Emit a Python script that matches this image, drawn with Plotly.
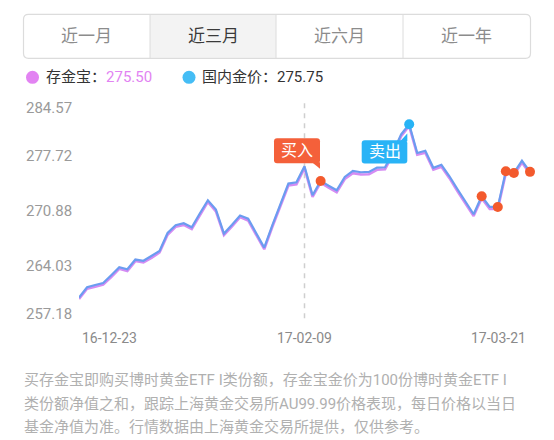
import plotly.graph_objects as go

# ---------------- data ----------------
dates = ["16-12-23", "16-12-26", "16-12-27", "16-12-28", "16-12-29", "16-12-30",
         "17-01-03", "17-01-04", "17-01-05", "17-01-06", "17-01-09", "17-01-10",
         "17-01-11", "17-01-12", "17-01-13", "17-01-16", "17-01-17", "17-01-18",
         "17-01-19", "17-01-20", "17-01-23", "17-01-24", "17-01-25", "17-01-26",
         "17-02-03", "17-02-06", "17-02-07", "17-02-08", "17-02-09", "17-02-10",
         "17-02-13", "17-02-14", "17-02-15", "17-02-16", "17-02-17", "17-02-20",
         "17-02-21", "17-02-22", "17-02-23", "17-02-24", "17-02-27", "17-02-28",
         "17-03-01", "17-03-02", "17-03-03", "17-03-06", "17-03-07", "17-03-08",
         "17-03-09", "17-03-10", "17-03-13", "17-03-14", "17-03-15", "17-03-16",
         "17-03-17", "17-03-20", "17-03-21"]

domestic_price = [260.10, 261.38, 261.66, 261.91, 262.87, 263.87, 263.62, 264.83, 264.68, 265.24,
                  265.90, 268.14, 269.10, 269.35, 268.85, 270.56, 272.21, 271.05, 268.07, 269.16,
                  270.31, 269.91, 268.10, 266.32, 269.10, 271.71, 274.29, 274.45, 276.45, 272.84,
                  274.62, 274.02, 273.46, 275.11, 275.86, 275.70, 275.74, 276.28, 276.32, 278.19,
                  280.43, 281.68, 278.10, 278.38, 276.26, 276.63, 275.20, 273.58, 272.03, 270.47,
                  272.71, 271.38, 271.38, 275.82, 275.61, 277.13, 275.75]

cunjinbao = [259.92, 261.20, 261.45, 261.72, 262.66, 263.68, 263.40, 264.64, 264.47, 265.03,
             265.71, 267.92, 268.90, 269.14, 268.64, 270.37, 272.01, 270.84, 267.88, 268.95,
             270.11, 269.70, 267.90, 266.12, 268.89, 271.50, 274.05, 274.19, 276.22, 272.63,
             274.40, 273.79, 273.20, 274.85, 275.58, 275.42, 275.45, 276.01, 276.08, 277.98,
             280.20, 281.45, 277.88, 278.13, 276.02, 276.37, 274.96, 273.34, 271.80, 270.25,
             272.47, 271.13, 271.12, 275.58, 275.36, 276.90, 275.50]

buy_points = ["17-02-13", "17-03-13", "17-03-15", "17-03-16", "17-03-17", "17-03-21"]
sell_points = ["17-02-28"]
buy_label_date = "17-02-09"
sell_label_date = "17-02-28"

y_ticks = [257.18, 264.03, 270.88, 277.72, 284.57]
x_tick_labels = ["16-12-23", "17-02-09", "17-03-21"]

periods = ["近一月", "近三月", "近六月", "近一年"]
selected_period = "近三月"

series_names = ["存金宝", "国内金价"]

footnote = [
    "买存金宝即购买博时黄金ETF I类份额，存金宝金价为100份博时黄金ETF I",
    "类份额净值之和，跟踪上海黄金交易所AU99.99价格表现，每日价格以当日",
    "基金净值为准。行情数据由上海黄金交易所提供，仅供参考。",
]

# ---------------- layout helpers ----------------
W, H = 554, 440
L, R, T, B = 79, 24, 100.7, 119.3
PW, PH = W - L - R, H - T - B

C_PURPLE = "#e283f2"
C_BLUE = "#45bdf5"
C_LINE_BLUE = "#6b9cf0"
C_LINE_PURPLE = "#d58cf3"
C_RED = "#f35a2d"
C_SELL = "#27b3f5"
FONT = "Roboto, 'Noto Sans CJK SC', sans-serif"


def px(X):
    return (X - L) / PW


def py(Y):
    return (H - B - Y) / PH


def to_paper(X, Y):
    return px(X), py(Y)


def to_pix(X, Y):
    return X, -Y


def rrect(x0, y0, x1, y1, r, f):
    pts = []

    def p(cmd, *xy):
        s = cmd
        for i in range(0, len(xy), 2):
            a, b = f(xy[i], xy[i + 1])
            s += f" {a:.5f},{b:.5f}"
        pts.append(s)
    p("M", x0 + r, y0)
    p("L", x1 - r, y0)
    p("Q", x1, y0, x1, y0 + r)
    p("L", x1, y1 - r)
    p("Q", x1, y1, x1 - r, y1)
    p("L", x0 + r, y1)
    p("Q", x0, y1, x0, y1 - r)
    p("L", x0, y0 + r)
    p("Q", x0, y0, x0 + r, y0)
    return " ".join(pts) + " Z"


def poly(points, f):
    s = []
    for i, (a, b) in enumerate(points):
        u, v = f(a, b)
        s.append(("M" if i == 0 else "L") + f" {u:.5f},{v:.5f}")
    return " ".join(s) + " Z"


fig = go.Figure()

fig.add_trace(go.Scatter(x=dates, y=cunjinbao, mode="lines", name=series_names[0],
                         line=dict(color=C_LINE_PURPLE, width=2.6), hoverinfo="skip"))
fig.add_trace(go.Scatter(x=dates, y=domestic_price, mode="lines", name=series_names[1],
                         line=dict(color=C_LINE_BLUE, width=2.2), hoverinfo="skip"))

idx = {d: i for i, d in enumerate(dates)}
fig.add_trace(go.Scatter(x=buy_points, y=[domestic_price[idx[d]] for d in buy_points],
                         mode="markers", marker=dict(color=C_RED, size=10),
                         cliponaxis=False, hoverinfo="skip"))
fig.add_trace(go.Scatter(x=sell_points, y=[domestic_price[idx[d]] for d in sell_points],
                         mode="markers", marker=dict(color=C_SELL, size=10),
                         cliponaxis=False, hoverinfo="skip"))

shapes = []
annotations = []

# segmented control
shapes.append(dict(type="path", xref="paper", yref="paper", layer="below",
                   path=rrect(150, 14.5, 276, 57.5, 0, to_paper),
                   fillcolor="#f3f3f3", line=dict(width=0)))
shapes.append(dict(type="path", xref="paper", yref="paper",
                   path=rrect(23.5, 14, 530.5, 58, 5, to_paper),
                   line=dict(color="#dcdcdc", width=1.2)))
for xd in (150, 276, 403):
    shapes.append(dict(type="line", xref="paper", yref="paper",
                       x0=px(xd), x1=px(xd), y0=py(14), y1=py(58),
                       line=dict(color="#dcdcdc", width=1)))
centers = [86.8, 213, 339.5, 466.7]
for name, cx in zip(periods, centers):
    annotations.append(dict(xref="paper", yref="paper", x=px(cx), y=py(36), text=name,
                            showarrow=False, xanchor="center", yanchor="middle",
                            font=dict(size=17, family=FONT,
                                      color="#3a3a3a" if name == selected_period else "#8c8c8c")))

# legend
for cx, col in ((32.5, C_PURPLE), (189, C_BLUE)):
    shapes.append(dict(type="circle", xref="paper", yref="paper",
                       x0=px(cx - 6.5), x1=px(cx + 6.5), y0=py(77 + 6.5), y1=py(77 - 6.5),
                       fillcolor=col, line=dict(width=0)))
annotations.append(dict(xref="paper", yref="paper", x=px(44), y=py(77), xanchor="left",
                        yanchor="middle", showarrow=False,
                        text=f"{series_names[0]}：<span style='color:{C_PURPLE}'>{cunjinbao[-1]:.2f}</span>",
                        font=dict(size=15, family=FONT, color="#333333")))
annotations.append(dict(xref="paper", yref="paper", x=px(200), y=py(77), xanchor="left",
                        yanchor="middle", showarrow=False,
                        text=f"{series_names[1]}：{domestic_price[-1]:.2f}",
                        font=dict(size=15, family=FONT, color="#333333")))

# y tick labels
for i, v in enumerate(y_ticks):
    shift = 7.4 if i == 0 else (-6.6 if i == len(y_ticks) - 1 else 0)
    annotations.append(dict(xref="paper", yref="y", x=px(24), y=v, yshift=shift,
                            xanchor="left", yanchor="middle", showarrow=False,
                            text=f"{v:.2f}", font=dict(size=15, family=FONT, color="#9a9a9a")))

# x tick labels
for lab, anc in zip(x_tick_labels, ("left", "center", "right")):
    annotations.append(dict(xref="x", yref="paper", x=idx[lab], y=py(338),
                            xanchor=anc, yanchor="middle", showarrow=False,
                            xshift=(1 if anc == "left" else (-2 if anc == "right" else 0)),
                            text=lab, font=dict(size=14, family=FONT, color="#8a8a8a")))

# dashed marker line
shapes.append(dict(type="line", xref="x", yref="paper", x0=idx[buy_label_date], x1=idx[buy_label_date],
                   y0=py(318), y1=py(98), layer="below",
                   line=dict(color="#cfcfcf", width=1.5, dash="5px,5px")))

# buy callout
bi = idx[buy_label_date]
by = domestic_price[bi]
shapes.append(dict(type="path", xref="x", yref="y", xsizemode="pixel", ysizemode="pixel",
                   xanchor=bi, yanchor=by,
                   path=rrect(-30.5, -28, 15.5, -3, 3, to_pix),
                   fillcolor="#f4603a", line=dict(width=0)))
shapes.append(dict(type="path", xref="x", yref="y", xsizemode="pixel", ysizemode="pixel",
                   xanchor=bi, yanchor=by,
                   path=poly([(7.5, -4), (15.5, -4), (15.5, 2.5)], to_pix),
                   fillcolor="#f4603a", line=dict(width=0)))
annotations.append(dict(xref="x", yref="y", x=bi, y=by, xshift=-7.5, yshift=15.5,
                        xanchor="center", yanchor="middle", showarrow=False, text="买入",
                        font=dict(size=16, family=FONT, color="white")))

# sell callout
si = idx[sell_label_date]
sy = domestic_price[si]
shapes.append(dict(type="path", xref="x", yref="y", xsizemode="pixel", ysizemode="pixel",
                   xanchor=si, yanchor=sy,
                   path=rrect(-47.5, 16, -1.9, 39.3, 3, to_pix),
                   fillcolor="#29b3f6", line=dict(width=0)))
shapes.append(dict(type="path", xref="x", yref="y", xsizemode="pixel", ysizemode="pixel",
                   xanchor=si, yanchor=sy,
                   path=poly([(-9, 17), (-1.9, 17), (-1.9, 9.3)], to_pix),
                   fillcolor="#29b3f6", line=dict(width=0)))
annotations.append(dict(xref="x", yref="y", x=si, y=sy, xshift=-24.7, yshift=-27.7,
                        xanchor="center", yanchor="middle", showarrow=False, text="卖出",
                        font=dict(size=16, family=FONT, color="white")))

# footnote
for line, yy in zip(footnote, (380, 404, 427)):
    annotations.append(dict(xref="paper", yref="paper", x=px(22), y=py(yy), xanchor="left",
                            yanchor="middle", showarrow=False, text=line,
                            font=dict(size=15, family=FONT, color="#b0b0b0")))

fig.update_layout(
    width=W, height=H,
    margin=dict(l=L, r=R, t=T, b=B, pad=0),
    paper_bgcolor="white", plot_bgcolor="white",
    showlegend=False,
    xaxis=dict(type="category", range=[0, len(dates) - 1], visible=False, fixedrange=True),
    yaxis=dict(range=[y_ticks[0], y_ticks[-1]], visible=False, fixedrange=True),
    shapes=shapes, annotations=annotations,
)

fig.write_html("out.html", config={"displayModeBar": False},
               post_script="document.body.style.margin='0';document.body.style.overflow='hidden';")
